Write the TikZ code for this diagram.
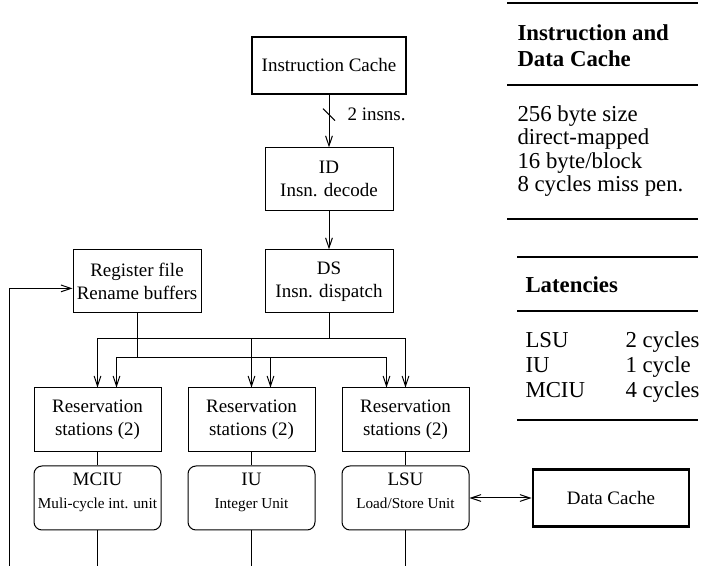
\documentclass[tikz,border=0pt]{standalone}
\usepackage{fontspec}
\setmainfont{Liberation Serif}
\usetikzlibrary{positioning,calc,arrows.meta}

\newcommand{\unitsub}{\fontsize{7.6pt}{11.5pt}\selectfont}

\begin{document}
\begin{tikzpicture}[x=0.5pt,y=-0.5pt,line width=0.5pt,
    >={Straight Barb[length=5pt,width=3.4pt]},
    font=\fontsize{9.5pt}{11.5pt}\selectfont,
    box/.style={draw,rectangle,align=center,inner sep=1pt,minimum width=64pt,minimum height=31.5pt},
    rsbox/.style={box,minimum width=63.5pt,minimum height=32pt},
    unitbox/.style={rsbox,rounded corners=4pt,text depth=7.5pt},
    cachebox/.style={box,line width=1.4pt,minimum width=77pt,minimum height=28.5pt},
    tabtext/.style={anchor=base west,inner sep=0pt,font=\fontsize{11.4pt}{13pt}\selectfont},
    tabhead/.style={tabtext,font=\fontsize{11.4pt}{13pt}\selectfont\bfseries},
    rule/.style={line width=0.7pt}]
    \useasboundingbox (0,0) rectangle (702,566);

    % front end
    \node[cachebox] (icache) at (329,65.5) {Instruction Cache};
    \node[box] (id) [below=26pt of icache] {ID\\Insn. decode};
    \node[box] (ds) [below=19pt of id] {DS\\Insn. dispatch};
    \node[box] (regfile) [left=31.5pt of ds] {Register file\\Rename buffers};

    % reservation stations and units
    \node[rsbox] (rs2) at (251.5,420) {Reservation\\stations (2)};
    \node[rsbox] (rs1) [left=13pt of rs2] {Reservation\\stations (2)};
    \node[rsbox] (rs3) [right=13pt of rs2] {Reservation\\stations (2)};
    \node[unitbox] (mciu) [below=6.5pt of rs1] {MCIU\\\unitsub Muli-cycle int. unit};
    \node[unitbox] (iu) [below=6.5pt of rs2] {IU\\\unitsub Integer Unit};
    \node[unitbox] (lsu) [below=6.5pt of rs3] {LSU\\\unitsub Load/Store Unit};
    \node[cachebox,minimum width=78pt] (dcache) [right=31pt of lsu] {Data Cache};

    \draw[->] (icache) -- coordinate[pos=0.37] (slash) (id);
    \draw ([shift={(-6,-6)}]slash) -- ([shift={(6,6)}]slash);
    \node[inner sep=0pt] (insns) [right=9pt of slash] {2 insns.};
    \draw[->] (id) -- (ds);

    \coordinate (dsbus) at ($(ds.south)+(0,25)$);
    \coordinate (rfbus) at ($(regfile.south)+(0,44)$);
    \draw (ds) -- (dsbus);
    \draw[->] (dsbus) -| (rs1.north);
    \draw[->] (dsbus) -| (rs3.north);
    \draw[->] (rs2.north |- dsbus) -- (rs2.north);
    \draw (regfile) -- (rfbus);
    \draw[->] (rfbus) -| ([xshift=9.5pt]rs1.north);
    \draw[->] (rfbus) -| ([xshift=-9.5pt]rs3.north);
    \draw[->] ([xshift=9.5pt]rs2.north |- rfbus) -- ([xshift=9.5pt]rs2.north);

    \coordinate (bottom) at (0,566);
    \foreach \r/\u in {rs1/mciu,rs2/iu,rs3/lsu} {
        \draw (\r) -- (\u);
        \draw (\u.south) -- (\u.south |- bottom);
    }
    \coordinate (fbstart) at (9,566);
    \draw[->] (fbstart) |- ([yshift=-3.5pt]regfile.west);
    \draw[<->] (lsu.east) -- (lsu.east -| dcache.west);

    % cache table
    \draw[rule] (507,3) -- (698,3);
    \node[tabhead,anchor=north west,align=left] (cachehead) at (517,24.5) {Instruction and\\Data Cache};
    \draw[rule] (507,85) -- (698,85);
    \foreach \txt [count=\i] in {256 byte size,direct-mapped,16 byte/block,8 cycles miss pen.}
        \node[tabtext] (cache\i) at (517,98+23.5*\i) {\txt};
    \draw[rule] (507,219) -- (698,219);

    % latency table
    \draw[rule] (517,257) -- (698,257);
    \node[tabhead] (lathead) at (525,293) {Latencies};
    \draw[rule] (517,311) -- (698,311);
    \foreach \u/\c [count=\i] in {LSU/2 cycles,IU/1 cycle,MCIU/4 cycles} {
        \node[tabtext] (lat\i) at (525,323+25*\i) {\u};
        \node[tabtext] (cyc\i) at (625,323+25*\i) {\c};
    }
    \draw[rule] (517,420) -- (698,420);
\end{tikzpicture}
\end{document}
